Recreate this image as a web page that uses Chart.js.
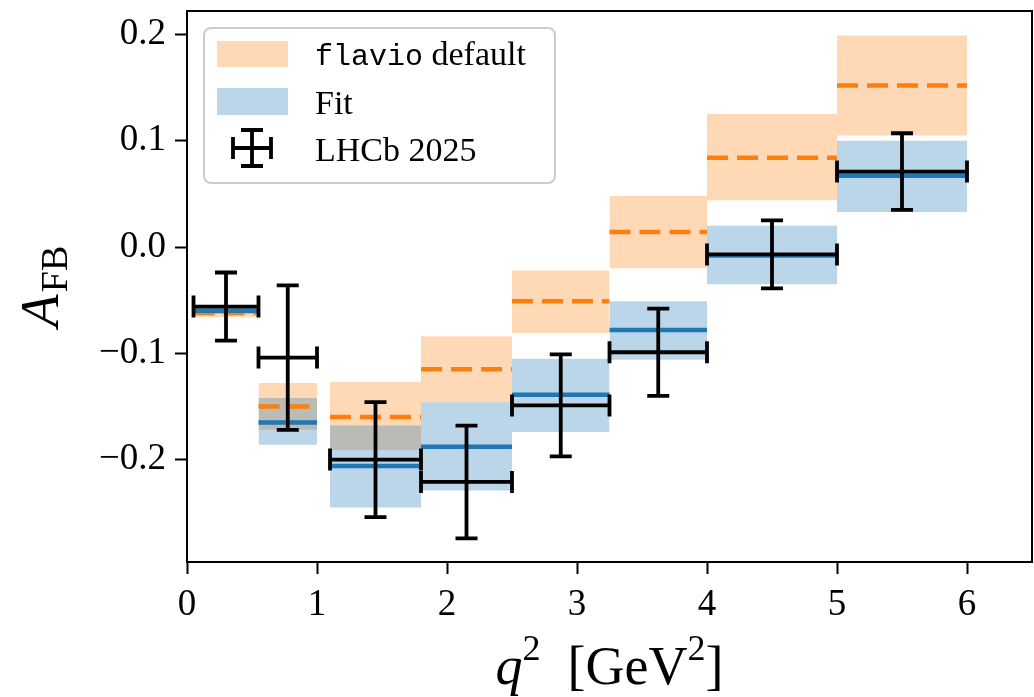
<!DOCTYPE html>
<html lang="en">
<head>
    <meta charset="UTF-8">
    <title>A_FB vs q2</title>
    <script src="https://cdn.jsdelivr.net/npm/chart.js"></script>
    <style>
        body { margin: 0; background: #fff; }
        canvas { display: block; }
    </style>
</head>
<body>
    <canvas id="chart" width="1034" height="697"></canvas>
    <script>
        // q2 bins (GeV^2)
        const binLo = [0.05, 0.55, 1.1, 1.8, 2.5, 3.25, 4.0, 5.0];
        const binHi = [0.55, 1.0, 1.8, 2.5, 3.25, 4.0, 5.0, 6.0];

        // flavio default prediction
        const flavioCentral = [-0.062, -0.150, -0.160, -0.115, -0.051, 0.014, 0.084, 0.152];
        const flavioLow = [-0.066, -0.172, -0.191, -0.146, -0.081, -0.020, 0.044, 0.105];
        const flavioHigh = [-0.058, -0.128, -0.127, -0.084, -0.022, 0.048, 0.125, 0.199];

        // fit prediction
        const fitCentral = [-0.060, -0.165, -0.206, -0.188, -0.139, -0.078, -0.008, 0.067];
        const fitLow = [-0.063, -0.186, -0.245, -0.229, -0.174, -0.106, -0.035, 0.033];
        const fitHigh = [-0.058, -0.142, -0.168, -0.146, -0.105, -0.051, 0.020, 0.100];

        // LHCb 2025 measurement
        const lhcbValue = [-0.056, -0.104, -0.200, -0.221, -0.149, -0.099, -0.007, 0.071];
        const lhcbError = [0.032, 0.068, 0.054, 0.053, 0.048, 0.041, 0.032, 0.036];

        const xTicks = [0, 1, 2, 3, 4, 5, 6];

        const orangeFill = 'rgba(255, 127, 14, 0.3)';
        const blueFill = 'rgba(31, 119, 180, 0.3)';
        const orangeLine = 'rgb(255, 127, 14)';
        const blueLine = 'rgb(31, 119, 180)';
        const serif = "'Liberation Serif', 'DejaVu Serif', serif";

        Chart.defaults.font.family = serif;
        Chart.defaults.color = '#000';

        function bandDatasets(lo, hi, color, order) {
            const out = [];
            for (let i = 0; i < binLo.length; i++) {
                out.push({
                    data: [{ x: binLo[i], y: hi[i] }, { x: binHi[i], y: hi[i] }],
                    fill: '+1',
                    backgroundColor: color,
                    borderWidth: 0,
                    pointRadius: 0,
                    order: order
                });
                out.push({
                    data: [{ x: binLo[i], y: lo[i] }, { x: binHi[i], y: lo[i] }],
                    fill: false,
                    borderWidth: 0,
                    pointRadius: 0,
                    order: order
                });
            }
            return out;
        }

        function lineDatasets(values, color, dash, order) {
            return values.map((v, i) => ({
                data: [{ x: binLo[i], y: v }, { x: binHi[i], y: v }],
                fill: false,
                borderColor: color,
                borderWidth: 4.5,
                borderDash: dash,
                borderCapStyle: 'butt',
                pointRadius: 0,
                order: order
            }));
        }

        const datasets = [].concat(
            lineDatasets(fitCentral, blueLine, [], 1),
            lineDatasets(flavioCentral, orangeLine, [21, 9], 1),
            bandDatasets(fitLow, fitHigh, blueFill, 2),
            bandDatasets(flavioLow, flavioHigh, orangeFill, 3)
        );

        function drawErrorBar(ctx, cx, cy, x0, x1, y0, y1, cap) {
            ctx.beginPath();
            ctx.moveTo(x0, cy); ctx.lineTo(x1, cy);
            ctx.moveTo(cx, y0); ctx.lineTo(cx, y1);
            ctx.moveTo(x0, cy - cap); ctx.lineTo(x0, cy + cap);
            ctx.moveTo(x1, cy - cap); ctx.lineTo(x1, cy + cap);
            ctx.moveTo(cx - cap, y0); ctx.lineTo(cx + cap, y0);
            ctx.moveTo(cx - cap, y1); ctx.lineTo(cx + cap, y1);
            ctx.stroke();
        }

        const errorBars = {
            id: 'errorBars',
            afterDatasetsDraw(chart) {
                const { ctx, scales: { x, y } } = chart;
                ctx.save();
                ctx.strokeStyle = '#000';
                ctx.lineWidth = 3.8;
                for (let i = 0; i < lhcbValue.length; i++) {
                    const cx = x.getPixelForValue((binLo[i] + binHi[i]) / 2);
                    const cy = y.getPixelForValue(lhcbValue[i]);
                    drawErrorBar(ctx, cx, cy,
                        x.getPixelForValue(binLo[i]), x.getPixelForValue(binHi[i]),
                        y.getPixelForValue(lhcbValue[i] + lhcbError[i]),
                        y.getPixelForValue(lhcbValue[i] - lhcbError[i]), 11);
                }
                ctx.restore();
            }
        };

        // spines, axis titles and legend
        const decorations = {
            id: 'decorations',
            afterDraw(chart) {
                const { ctx, chartArea: a } = chart;
                ctx.save();
                ctx.strokeStyle = '#000';
                ctx.lineWidth = 2;
                ctx.beginPath();
                ctx.moveTo(a.left, a.top); ctx.lineTo(a.right, a.top); ctx.lineTo(a.right, a.bottom);
                ctx.stroke();

                // x label: q^2 [GeV^2]
                ctx.fillStyle = '#000';
                ctx.textBaseline = 'alphabetic';
                const parts = [
                    ['q', 'italic 54px ' + serif, 0],
                    ['2', '36px ' + serif, -24],
                    ['\u2002[GeV', '54px ' + serif, 0],
                    ['2', '36px ' + serif, -24],
                    [']', '54px ' + serif, 0]
                ];
                let total = 0;
                parts.forEach(p => { ctx.font = p[1]; total += ctx.measureText(p[0]).width; });
                let px = (a.left + a.right) / 2 - total / 2;
                const base = 684;
                parts.forEach(p => {
                    ctx.font = p[1];
                    ctx.fillText(p[0], px, base + p[2]);
                    px += ctx.measureText(p[0]).width;
                });

                // y label: A_FB
                ctx.save();
                ctx.translate(58, (a.top + a.bottom) / 2);
                ctx.rotate(-Math.PI / 2);
                ctx.font = 'italic 54px ' + serif;
                const wA = ctx.measureText('A').width;
                ctx.font = '38px ' + serif;
                const wFB = ctx.measureText('FB').width;
                let sx = -(wA + wFB + 2) / 2;
                ctx.font = 'italic 54px ' + serif;
                ctx.fillText('A', sx, 0);
                ctx.font = '38px ' + serif;
                ctx.fillText('FB', sx + wA + 2, 9);
                ctx.restore();

                // legend
                const lx = a.left + 17, ly = a.top + 17, lw = 351, lh = 155;
                ctx.beginPath();
                ctx.roundRect(lx, ly, lw, lh, 7);
                ctx.fillStyle = 'rgba(255,255,255,0.8)';
                ctx.fill();
                ctx.strokeStyle = '#cccccc';
                ctx.lineWidth = 2;
                ctx.stroke();

                ctx.fillStyle = orangeFill;
                ctx.fillRect(lx + 13, ly + 13, 71, 26);
                ctx.fillStyle = blueFill;
                ctx.fillRect(lx + 13, ly + 60, 71, 27);
                ctx.strokeStyle = '#000';
                ctx.lineWidth = 3.8;
                drawErrorBar(ctx, lx + 48, ly + 120, lx + 29, lx + 67, ly + 102, ly + 138, 11);

                ctx.fillStyle = '#000';
                const tx = lx + 111;
                ctx.font = "30px 'Liberation Mono', 'DejaVu Sans Mono', monospace";
                ctx.fillText('flavio', tx, ly + 37);
                const wf = ctx.measureText('flavio').width;
                ctx.font = '34px ' + serif;
                ctx.fillText(' default', tx + wf, ly + 37);
                ctx.fillText('Fit', tx, ly + 86);
                ctx.fillText('LHCb 2025', tx, ly + 133);
                ctx.restore();
            }
        };

        function fmt(v, digits) {
            if (Math.abs(v) < 1e-9) v = 0;
            return v.toFixed(digits).replace('-', '\u2212');
        }

        function noPadding(s) {
            s.paddingTop = 0;
            s.paddingBottom = 0;
            s.paddingLeft = 0;
            s.paddingRight = 0;
        }

        new Chart(document.getElementById('chart'), {
            type: 'line',
            data: { datasets: datasets },
            options: {
                responsive: false,
                devicePixelRatio: 1,
                animation: false,
                layout: { padding: { left: 0, top: 11, right: 2, bottom: 0 } },
                plugins: {
                    legend: { display: false },
                    tooltip: { enabled: false }
                },
                scales: {
                    x: {
                        type: 'linear',
                        min: 0,
                        max: 6.5,
                        afterBuildTicks: s => { s.ticks = xTicks.map(v => ({ value: v })); },
                        afterFit: s => { s.height = 135; noPadding(s); },
                        ticks: {
                            font: { size: 37 },
                            color: '#000',
                            padding: 9,
                            maxRotation: 0,
                            callback: v => fmt(v, 0)
                        },
                        grid: { drawOnChartArea: false, tickLength: 12, tickWidth: 2, tickColor: '#000' },
                        border: { color: '#000', width: 2 }
                    },
                    y: {
                        min: -0.2963,
                        max: 0.222,
                        afterFit: s => { s.width = 187; noPadding(s); },
                        ticks: {
                            stepSize: 0.1,
                            includeBounds: false,
                            font: { size: 37 },
                            color: '#000',
                            padding: 9,
                            callback: v => fmt(v, 1)
                        },
                        grid: { drawOnChartArea: false, tickLength: 12, tickWidth: 2, tickColor: '#000' },
                        border: { color: '#000', width: 2 }
                    }
                }
            },
            plugins: [errorBars, decorations]
        });
    </script>
</body>
</html>
